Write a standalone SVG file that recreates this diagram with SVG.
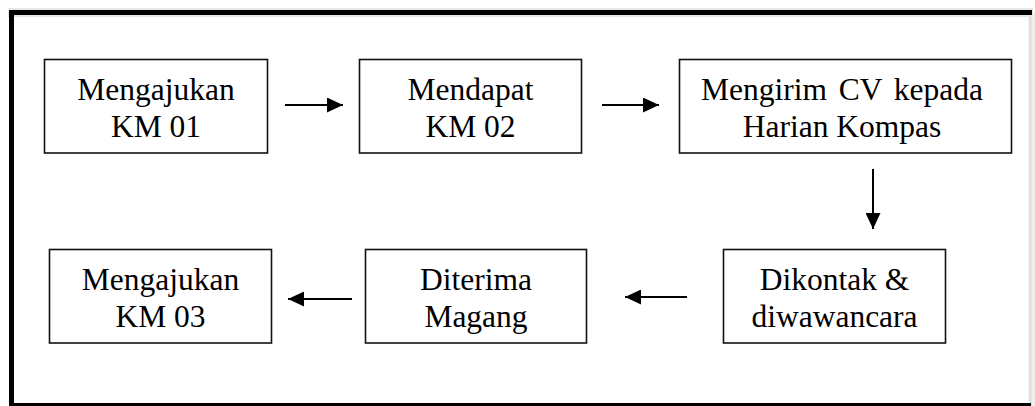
<svg xmlns="http://www.w3.org/2000/svg" width="1035" height="406" viewBox="0 0 1035 406">
<style>
.box{fill:#fff;stroke:#111;stroke-width:1.6}
.t{font-family:"Liberation Serif","Times New Roman",serif;font-size:31.5px;fill:#000;text-anchor:middle}
.c{stroke:#000;stroke-width:2;fill:none}
</style>
<defs>
<marker id="ah" markerWidth="16" markerHeight="15" refX="16" refY="7.5" orient="auto" markerUnits="userSpaceOnUse">
<path d="M0,0 L16,7.5 L0,15 Z" fill="#000"/>
</marker>
</defs>
<rect x="0" y="0" width="1035" height="406" fill="#fff"/>
<g id="frame">
<rect x="1028" y="12" width="7" height="394" fill="#f0f0f0"/>
<rect x="1029.5" y="14" width="2" height="392" fill="#dcdcdc"/>
<rect x="8" y="8" width="1025" height="9" fill="#e6e6e6"/>
<rect x="9" y="10" width="1023" height="5" fill="#000"/>
<rect x="9" y="10" width="5" height="396" fill="#000"/>
<rect x="9" y="403" width="1022" height="3" fill="#000"/>
</g>
<g id="n1"><rect class="box" x="44.5" y="59.5" width="223" height="93.5"/>
<text class="t" x="156" y="100">Mengajukan</text><text class="t" x="156" y="137">KM 01</text></g>
<g id="n2"><rect class="box" x="359.5" y="59.5" width="222" height="93.5"/>
<text class="t" x="470.5" y="100">Mendapat</text><text class="t" x="470.5" y="137">KM 02</text></g>
<g id="n3"><rect class="box" x="679.5" y="59.5" width="332" height="93.5"/>
<text class="t" x="842" y="100" word-spacing="4">Mengirim CV kepada</text><text class="t" x="842" y="137">Harian Kompas</text></g>
<g id="n4"><rect class="box" x="723.5" y="249.5" width="222" height="93.5"/>
<text class="t" x="834.5" y="290">Dikontak &amp;</text><text class="t" x="834.5" y="327">diwawancara</text></g>
<g id="n5"><rect class="box" x="365.5" y="249.5" width="221" height="93.5"/>
<text class="t" x="476" y="290">Diterima</text><text class="t" x="476" y="327">Magang</text></g>
<g id="n6"><rect class="box" x="49.5" y="249.5" width="222" height="93.5"/>
<text class="t" x="160.5" y="290">Mengajukan</text><text class="t" x="160.5" y="327">KM 03</text></g>
<g id="connectors">
<line class="c" x1="285" y1="105" x2="343" y2="105" marker-end="url(#ah)"/>
<line class="c" x1="602" y1="105" x2="659" y2="105" marker-end="url(#ah)"/>
<line class="c" x1="873" y1="169" x2="873" y2="229" marker-end="url(#ah)"/>
<line class="c" x1="687" y1="297" x2="625" y2="297" marker-end="url(#ah)"/>
<line class="c" x1="352" y1="299" x2="288" y2="299" marker-end="url(#ah)"/>
</g>
</svg>
